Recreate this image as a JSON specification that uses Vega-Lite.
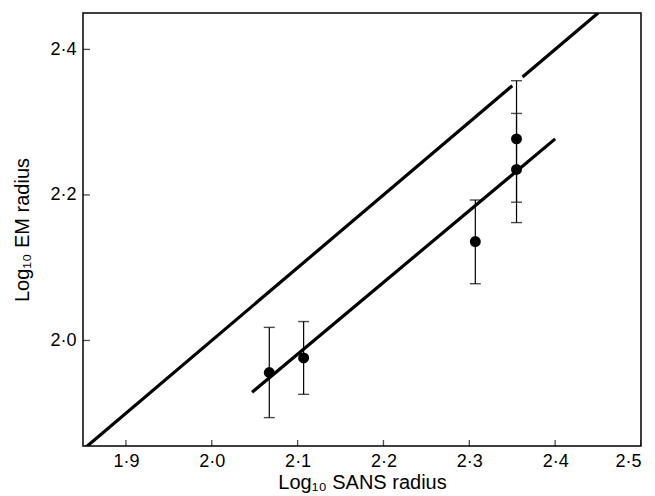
{
  "$schema": "https://vega.github.io/schema/vega-lite/v6.json",
  "autosize": {"type": "none"},
  "padding": {"left": 83, "top": 13, "right": 14, "bottom": 50},
  "width": 558,
  "height": 433,
  "background": "white",
  "config": {
    "view": {"stroke": "black", "strokeWidth": 1.5},
    "font": "Liberation Sans",
    "axis": {
      "domain": false,
      "grid": false,
      "ticks": false,
      "labelColor": "black",
      "labelFontSize": 18,
      "labelFont": "Liberation Sans",
      "titleColor": "black",
      "titleFontSize": 20,
      "titleFontWeight": "normal",
      "titleFont": "Liberation Sans"
    }
  },
  "datasets": {
    "points": [
      {"x": 2.067, "y": 1.956, "ylo": 1.894, "yhi": 2.018},
      {"x": 2.107, "y": 1.976, "ylo": 1.926, "yhi": 2.026},
      {"x": 2.307, "y": 2.136, "ylo": 2.078, "yhi": 2.193},
      {"x": 2.355, "y": 2.277, "ylo": 2.19, "yhi": 2.357},
      {"x": 2.355, "y": 2.235, "ylo": 2.162, "yhi": 2.312}
    ],
    "lines": [
      {"line": "a1", "x": 1.85, "y": 1.85},
      {"line": "a1", "x": 2.35, "y": 2.35},
      {"line": "a2", "x": 2.362, "y": 2.362},
      {"line": "a2", "x": 2.45, "y": 2.45},
      {"line": "b", "x": 2.047, "y": 1.929},
      {"line": "b", "x": 2.4, "y": 2.277}
    ],
    "xticks": [{"v": 1.9}, {"v": 2.0}, {"v": 2.1}, {"v": 2.2}, {"v": 2.3}, {"v": 2.4}, {"v": 2.5}],
    "yticks": [{"v": 2.0}, {"v": 2.2}, {"v": 2.4}]
  },
  "layer": [
    {
      "data": {"name": "lines"},
      "mark": {"type": "line", "color": "black", "strokeWidth": 3.2, "clip": true, "strokeCap": "butt"},
      "encoding": {
        "x": {
          "field": "x", "type": "quantitative",
          "scale": {"domain": [1.85, 2.5], "nice": false, "zero": false},
          "axis": {
            "title": "Log₁₀ SANS radius",
            "values": [1.9, 2.0, 2.1, 2.2, 2.3, 2.4, 2.5],
            "labelExpr": "replace(format(datum.value, '.1f'), '.', '·')",
            "labelPadding": 6,
            "titlePadding": 2
          }
        },
        "y": {
          "field": "y", "type": "quantitative",
          "scale": {"domain": [1.855, 2.45], "nice": false, "zero": false},
          "axis": {
            "title": "Log₁₀ EM radius",
            "values": [2.0, 2.2, 2.4],
            "labelExpr": "replace(format(datum.value, '.1f'), '.', '·')",
            "labelPadding": 7,
            "titlePadding": 17
          }
        },
        "detail": {"field": "line"}
      }
    },
    {
      "data": {"name": "xticks"},
      "mark": {"type": "tick", "orient": "vertical", "color": "black", "size": 12, "thickness": 1.3, "clip": true},
      "encoding": {
        "x": {"field": "v", "type": "quantitative"},
        "y": {"datum": 1.855, "type": "quantitative"}
      }
    },
    {
      "data": {"name": "yticks"},
      "mark": {"type": "tick", "orient": "horizontal", "color": "black", "size": 14, "thickness": 1.3, "clip": true},
      "encoding": {
        "y": {"field": "v", "type": "quantitative"},
        "x": {"datum": 1.85, "type": "quantitative"}
      }
    },
    {
      "data": {"name": "points"},
      "mark": {"type": "rule", "color": "black", "strokeWidth": 1.2},
      "encoding": {
        "x": {"field": "x", "type": "quantitative"},
        "y": {"field": "ylo", "type": "quantitative"},
        "y2": {"field": "yhi"}
      }
    },
    {
      "data": {"name": "points"},
      "mark": {"type": "tick", "orient": "horizontal", "color": "black", "size": 11, "thickness": 1.4},
      "encoding": {
        "x": {"field": "x", "type": "quantitative"},
        "y": {"field": "ylo", "type": "quantitative"}
      }
    },
    {
      "data": {"name": "points"},
      "mark": {"type": "tick", "orient": "horizontal", "color": "black", "size": 11, "thickness": 1.4},
      "encoding": {
        "x": {"field": "x", "type": "quantitative"},
        "y": {"field": "yhi", "type": "quantitative"}
      }
    },
    {
      "data": {"name": "points"},
      "mark": {"type": "point", "filled": true, "color": "black", "opacity": 1, "size": 120},
      "encoding": {
        "x": {"field": "x", "type": "quantitative"},
        "y": {"field": "y", "type": "quantitative"}
      }
    }
  ]
}
